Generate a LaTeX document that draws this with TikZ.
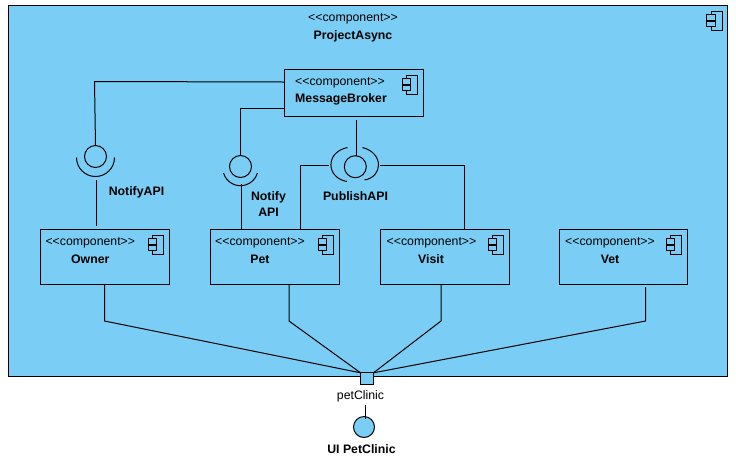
\documentclass[tikz,border=0pt]{standalone}
\usepackage{fontspec}
\setmainfont{Liberation Sans}
\definecolor{compblue}{RGB}{122,206,245}
\tikzset{
  comp/.style={draw=black,fill=compblue,line width=1pt,minimum width=129pt,minimum height=55pt,inner sep=0pt,outer sep=0pt},
  stereo/.style={font=\fontsize{12.3}{14}\selectfont,inner sep=0pt,anchor=center},
  cname/.style={font=\fontsize{12.3}{14}\selectfont\bfseries,inner sep=0pt,anchor=center,align=center},
  ball/.style={circle,draw=black,minimum size=22pt,inner sep=0pt,outer sep=0pt,line width=1pt},
  conn/.style={draw=black,line width=1pt},
  sock/.style={draw=black,line width=1pt},
  icon/.style={draw=black,line width=1pt,fill=compblue}
}
\newcommand{\compicon}[2]{%
  \draw[icon] (#1,#2) rectangle ++(11,18.5);
  \draw[icon] (#1-4.5,#2+3) rectangle ++(8.5,5.5);
  \draw[icon] (#1-4.5,#2+10) rectangle ++(8.5,5);
}
\begin{document}
\begin{tikzpicture}[x=1pt,y=-1pt]
\useasboundingbox (0,0) rectangle (736,459);
\node[comp,minimum width=719.5pt,minimum height=371pt,anchor=north west] (async) at (8,5.5) {};
\compicon{711}{11.5}
\node[stereo] (asyncs) at (353,19) {<{}<component>{}>};
\node[cname] (asyncn) at (353,36) {ProjectAsync};

\node[comp,minimum width=139pt,minimum height=47pt,anchor=north west] (broker) at (284.5,69.5) {};
\compicon{406.5}{75.5}
\node[stereo] (brokers) at (340,83) {<{}<component>{}>};
\node[cname] (brokern) at (341,99) {MessageBroker};

\node[comp,anchor=north west] (owner) at (40.5,229.5) {};
\compicon{152.5}{235.5}
\node[stereo] (owners) at (90.3,243) {<{}<component>{}>};
\node[cname] (ownern) at (90.3,259) {Owner};

\node[comp,anchor=north west] (pet) at (210.5,229.5) {};
\compicon{322.5}{235.5}
\node[stereo] (pets) at (260,243) {<{}<component>{}>};
\node[cname] (petn) at (260,259) {Pet};

\node[comp,anchor=north west] (visit) at (380.5,229.5) {};
\compicon{492.5}{235.5}
\node[stereo] (visits) at (431.5,243) {<{}<component>{}>};
\node[cname] (visitn) at (431,259) {Visit};

\node[comp,minimum width=128pt,anchor=north west] (vet) at (559.5,229.5) {};
\compicon{670.5}{235.5}
\node[stereo] (vets) at (610,243) {<{}<component>{}>};
\node[cname] (vetn) at (610,259) {Vet};

% interfaces
\node[ball] (na) at (95.5,156.5) {};
\draw[sock] (na)+(-19,1) arc[start angle=180,end angle=0,radius=19];
\node[ball] (nb) at (240.5,166.5) {};
\draw[sock] (nb)+(-17,6.5) arc[start angle=163.6,end angle=16.4,radius=17.7];
\node[ball] (pa) at (355.3,166.7) {};
\draw[sock] (347.5,147.5) .. controls (325,152) and (326,178) .. (347,181.5);
\draw[sock] (362.5,147.5) .. controls (384,153) and (383,177) .. (364.5,180);

\node[cname] (nal) at (136.5,192.5) {NotifyAPI};
\node[cname,text width=60pt] (nbl) at (268.5,204) {Notify\\[1.5pt]API};
\node[cname] (pal) at (355.5,196) {PublishAPI};

% connectors
\draw[conn] ([yshift=11pt]broker.west) -- (94.5,81.5) -- (na.north);
\draw[conn] ([yshift=-15.5pt]broker.west) -| (nb.north);
\coordinate (bs) at (356.5,120);
\draw[conn] (bs) -- (pa.north -| bs);
\coordinate (oa) at (96.5,226);
\coordinate (ob) at (96.5,180);
\draw[conn] (oa) -- (ob);
\coordinate (pb) at (241.5,184);
\draw[conn] (pet.north -| pb) -- (pb);
\coordinate (pl) at (329,165.5);
\coordinate (vr) at (380,165.5);
\draw[conn] (300.5,229) |- (pl);
\draw[conn] (464.5,229) |- (vr);

% port and lower links
\node[draw=black,fill=compblue,line width=1pt,minimum width=13pt,minimum height=11.5pt,inner sep=0pt,outer sep=0pt,anchor=north west] (port) at (360.5,372.8) {};
\draw[conn] (104.5,284) -- (104.5,321) -- (port.north west);
\draw[conn] (289,284) -- (289,321) -- (port.north west);
\draw[conn] (441,284) -- (441,321) -- (port.north east);
\draw[conn] (645.5,287) -- (645.5,321) -- (port.north east);

\node[font=\fontsize{12.3}{14}\selectfont,inner sep=0pt] (portl) at (360.5,396) {petClinic};
\node[circle,draw=black,fill=compblue,minimum size=21pt,inner sep=0pt,outer sep=0pt,line width=1pt] (ui) at (364,427) {};
\draw[conn] (365.5,405) -- (365.5,419);
\node[cname] (uil) at (361.5,449) {UI PetClinic};
\end{tikzpicture}
\end{document}
